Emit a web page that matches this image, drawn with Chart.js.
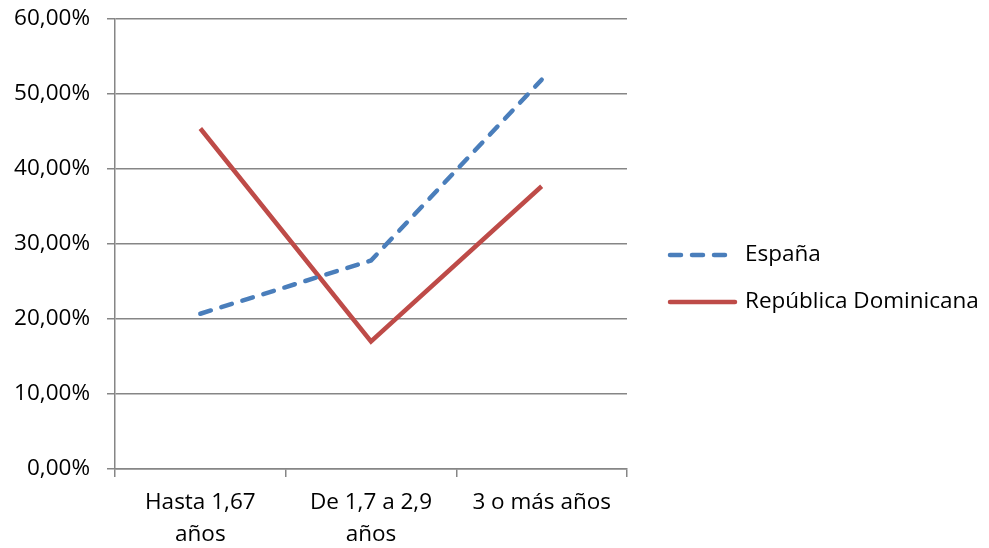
<!DOCTYPE html>
<html>
<head>
<meta charset="utf-8">
<script src="https://cdn.jsdelivr.net/npm/chart.js@4"></script>
<style>
  html, body { margin: 0; padding: 0; background: #fff; }
  #wrap { width: 989px; height: 548px; }
</style>
</head>
<body>
<div id="wrap"><canvas id="myChart" width="989" height="548"></canvas></div>
<script>
const categories = [['Hasta 1,67', 'años'], ['De 1,7 a 2,9', 'años'], '3 o más años'];
const espana = [20.7, 27.8, 51.9];
const dominicana = [45.4, 17.0, 37.7];
const yTicks = [0, 10, 20, 30, 40, 50, 60];

const FONT = '"Open Sans", sans-serif';
const FSIZE = 22.5;

// legend at the right, drawn like the Excel one
const sideLegend = {
    id: 'sideLegend',
    afterDraw(chart) {
        const ctx = chart.ctx;
        const rows = [255, 302];
        chart.data.datasets.forEach(function (ds, i) {
            const y = rows[i];
            ctx.save();
            ctx.strokeStyle = ds.borderColor;
            ctx.lineWidth = ds.borderWidth;
            ctx.lineCap = 'round';
            ctx.setLineDash(ds.borderDash || []);
            ctx.beginPath();
            ctx.moveTo(670, y);
            ctx.lineTo(735, y);
            ctx.stroke();
            ctx.setLineDash([]);
            ctx.fillStyle = '#000';
            ctx.font = FSIZE + 'px ' + FONT;
            ctx.textBaseline = 'middle';
            ctx.fillText(ds.label, 745, y);
            ctx.restore();
        });
    }
};

var ctx = document.getElementById('myChart');
var myChart = new Chart(ctx, {
    type: 'line',
    data: {
        labels: categories,
        datasets: [{
            label: 'España',
            data: espana,
            borderColor: '#4a7ebb',
            borderWidth: 4.5,
            borderDash: [11, 11],
            borderCapStyle: 'round',
            pointRadius: 0,
            tension: 0
        }, {
            label: 'República Dominicana',
            data: dominicana,
            borderColor: '#be4b48',
            borderWidth: 4.5,
            pointRadius: 0,
            tension: 0
        }]
    },
    options: {
        responsive: false,
        animation: false,
        layout: { padding: { left: 0, top: 19, right: 362, bottom: 0 } },
        plugins: {
            legend: { display: false },
            tooltip: { enabled: false }
        },
        scales: {
            x: {
                offset: true,
                grid: { display: true, drawOnChartArea: false, offset: true, tickLength: 8, color: '#868686', lineWidth: 1.5 },
                border: { color: '#868686', width: 1.5 },
                ticks: { color: '#000', padding: 10, maxRotation: 0, font: { family: FONT, size: FSIZE, lineHeight: 1.42 } },
                afterFit(scale) {
                    scale.height = 79;
                    scale.paddingLeft = 0;
                    scale.paddingRight = 0;
                }
            },
            y: {
                min: 0,
                max: 60,
                afterBuildTicks(scale) { scale.ticks = yTicks.map(v => ({ value: v })); },
                grid: { color: '#868686', lineWidth: 1.5, tickLength: 8 },
                border: { color: '#868686', width: 1.5 },
                ticks: {
                    color: '#000',
                    padding: 17,
                    font: { family: FONT, size: FSIZE },
                    callback: v => v.toFixed(2).replace('.', ',') + '%'
                },
                afterFit(scale) {
                    scale.width = 115;
                    scale.paddingTop = 0;
                    scale.paddingBottom = 0;
                }
            }
        }
    },
    plugins: [sideLegend]
});
</script>
</body>
</html>
